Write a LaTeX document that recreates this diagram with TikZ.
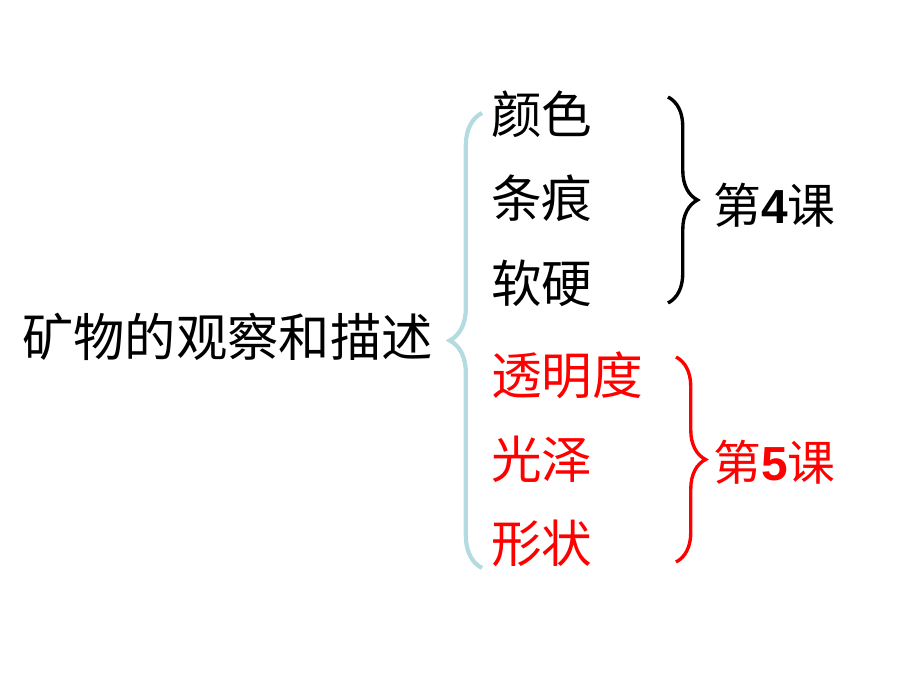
\documentclass[tikz,border=0pt]{standalone}
\usepackage{fontspec}
\setmainfont{Noto Sans CJK SC}
\newfontfamily\latinbold{Liberation Sans}
\usetikzlibrary{decorations.pathreplacing}
\definecolor{lightteal}{RGB}{180,220,224}
\tikzset{
  item/.style={anchor=west,font=\fontsize{36}{36}\selectfont,inner sep=0pt},
  lesson/.style={anchor=west,font=\fontsize{34}{34}\selectfont,inner sep=0pt},
  bigbrace/.style={decorate,decoration={brace,amplitude=#1},line width=2.4pt}
}
\begin{document}
\begin{tikzpicture}[x=0.025cm,y=-0.025cm]
    \useasboundingbox (0,0) rectangle (920,690);
    \node[anchor=east,font=\fontsize{36.5}{36}\selectfont,inner sep=0pt] (main) at (433,337) {矿物的观察和描述};
    % items
    \node[item] (c1) at (491,114) {颜色};
    \node[item] (c2) at (491,198) {条痕};
    \node[item] (c3) at (491,283) {软硬};
    \node[item,red] (c4) at (491,375) {透明度};
    \node[item,red] (c5) at (491,459) {光泽};
    \node[item,red] (c6) at (491,543) {形状};
    % braces
    \coordinate (b1) at (482,568);
    \coordinate (b2) at (482,113);
    \draw[bigbrace=23pt,lightteal,line width=3pt] (b1) -- (b2);
    \coordinate (k4top) at (668,97);
    \coordinate (k4bot) at (668,303);
    \draw[bigbrace=21pt,black] (k4top) -- (k4bot);
    \coordinate (k5top) at (676,357);
    \coordinate (k5bot) at (676,562);
    \draw[bigbrace=21pt,red] (k5top) -- (k5bot);
    \node[lesson] (k4) at (713,205) {第{\latinbold\bfseries 4}课};
    \node[lesson,red] (k5) at (713,462) {第{\latinbold\bfseries 5}课};
\end{tikzpicture}
\end{document}
